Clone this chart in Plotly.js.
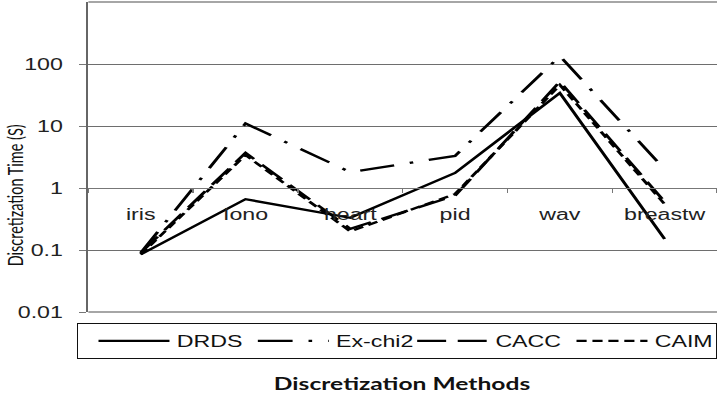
<!DOCTYPE html>
<html>
<head>
<meta charset="utf-8">
<script src="https://cdn.plot.ly/plotly-3.0.1.min.js"></script>
<style>
html,body{margin:0;padding:0;background:#fff;overflow:hidden;width:717px;height:396px;}
#chart{width:495px;height:396px;transform:scaleX(1.4485);transform-origin:0 0;}
</style>
</head>
<body>
<div id="chart"></div>
<script>
const categories = ["iris", "Iono", "heart", "pid", "wav", "breastw"];
const drds   = [0.085, 0.66, 0.33, 1.75, 34, 0.15];
const exchi2 = [0.09, 11, 1.8, 3.3, 134, 2.0];
const cacc   = [0.09, 3.7, 0.22, 0.75, 52, 0.6];
const caim   = [0.085, 3.4, 0.2, 0.8, 46, 0.55];
const seriesNames = ["DRDS", "Ex-chi2", "CACC", "CAIM"];
const yTickVals = [0.01, 0.1, 1, 10, 100];
const yTickText = ["0.01", "0.1", "1", "10", "100"];

const dashes = ["solid", "24px,11px,2.5px,11px", "20px,8px", "7px,4px"];
const allSeries = [drds, exchi2, cacc, caim];

const traces = allSeries.map((vals, i) => ({
  type: "scatter",
  mode: "lines",
  name: seriesNames[i],
  x: categories,
  y: vals,
  line: {color: "#000", width: 2.3, dash: dashes[i]},
  hoverinfo: "skip"
}));

const layout = {
  width: 495, height: 396,
  margin: {l: 61.4, r: 0, t: 2, b: 84},
  paper_bgcolor: "#fff",
  plot_bgcolor: "#fff",
  font: {family: "Liberation Sans, Arial, sans-serif", color: "#111", size: 15},
  showlegend: true,
  legend: {
    orientation: "h",
    x: -0.0096, xanchor: "left",
    y: -0.0355, yanchor: "top",
    bordercolor: "#111", borderwidth: 1,
    font: {size: 16, family: "Liberation Sans, Arial, sans-serif", color: "#111"},
    itemwidth: 49,
    indentation: 9,
    entrywidth: 37, entrywidthmode: "pixels",
    bgcolor: "#fff"
  },
  xaxis: {
    type: "category",
    range: [-0.5, 5.5],
    anchor: "free",
    position: 0.4,
    showgrid: false,
    showline: true, linecolor: "#777", linewidth: 1,
    ticks: "outside", ticklen: 4, tickcolor: "#777",
    tickson: "boundaries",
    ticklabelstandoff: 12,
    tickfont: {size: 16, family: "Liberation Sans, Arial, sans-serif", color: "#222"},
    zeroline: false,
    fixedrange: true
  },
  yaxis: {
    type: "log",
    range: [-2, 3],
    tickvals: yTickVals,
    ticktext: yTickText,
    showgrid: true, gridcolor: "#6e6e6e", gridwidth: 1,
    showline: true, linecolor: "#666", linewidth: 1.4,
    ticks: "outside", ticklen: 5, tickcolor: "#777",
    ticklabelstandoff: 8,
    tickfont: {size: 16, family: "Liberation Sans, Arial, sans-serif", color: "#222"},
    zeroline: false,
    fixedrange: true
  },
  shapes: [
    {type: "line", xref: "paper", yref: "paper", x0: 0, x1: 1.01, y0: 1, y1: 1,
     line: {color: "#888", width: 1.5}},
    {type: "line", xref: "paper", yref: "paper", x0: 0, x1: 1.01, y0: 0, y1: 0,
     line: {color: "#888", width: 1.5}}
  ],
  annotations: [
    {text: "Discretization Time (S)", xref: "paper", yref: "paper",
     x: -0.116, y: 0.375, xanchor: "center", yanchor: "middle",
     textangle: -90, showarrow: false,
     font: {family: "Lato, sans-serif", size: 14.5, color: "#111"}},
    {text: "<b>Discretization Methods</b>", xref: "paper", yref: "paper",
     x: 0.498, y: -0.232, xanchor: "center", yanchor: "middle", showarrow: false,
     font: {family: "Lato, sans-serif", size: 17, color: "#111"}}
  ]
};

Plotly.newPlot("chart", traces, layout, {staticPlot: true, displayModeBar: false});
</script>
</body>
</html>
